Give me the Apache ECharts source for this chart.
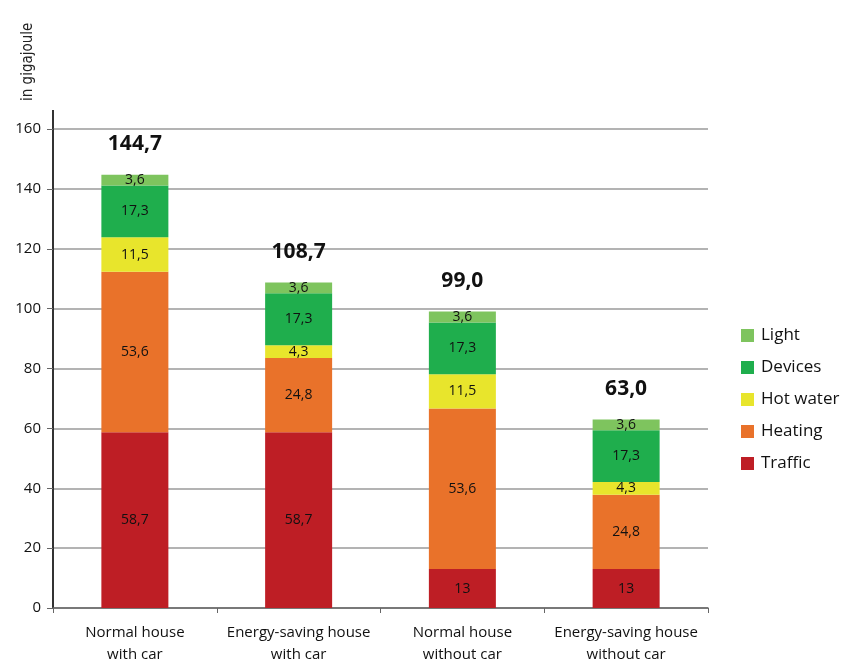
<!DOCTYPE html>
<html>
<head>
<meta charset="utf-8">
<script src="https://cdn.jsdelivr.net/npm/echarts@6/dist/echarts.min.js"></script>
<style>
  html, body { margin: 0; padding: 0; background: #fff; }
  #chart { width: 858px; height: 666px; }
</style>
</head>
<body>
<div id="chart"></div>
<script>
var categories = ['Normal house\nwith car', 'Energy-saving house\nwith car', 'Normal house\nwithout car', 'Energy-saving house\nwithout car']
var traffic = [58.7, 58.7, 13, 13]
var heating = [53.6, 24.8, 53.6, 24.8]
var hotWater = [11.5, 4.3, 11.5, 4.3]
var devices = [17.3, 17.3, 17.3, 17.3]
var light = [3.6, 3.6, 3.6, 3.6]
var totals = [144.7, 108.7, 99.0, 63.0]
var yTicks = [0, 20, 40, 60, 80, 100, 120, 140, 160]

var font = '"Open Sans", "Noto Sans", sans-serif'

function comma (v) {
  return String(v).replace('.', ',')
}

function part (name, data, color) {
  return {
    name: name,
    type: 'bar',
    stack: 'total',
    barWidth: 67,
    data: data,
    itemStyle: { color: color },
    label: {
      show: true,
      position: 'inside',
      color: '#111',
      fontFamily: font,
      fontSize: 14,
      formatter: function (p) { return comma(p.value) }
    }
  }
}

var chart = echarts.init(document.getElementById('chart'))
chart.setOption({
  animation: false,
  textStyle: { fontFamily: font },
  grid: { left: 53, right: 150, top: 129, bottom: 53 },
  legend: {
    orient: 'vertical',
    left: 736,
    top: 322,
    itemWidth: 13,
    itemHeight: 13,
    itemGap: 15,
    icon: 'rect',
    data: ['Light', 'Devices', 'Hot water', 'Heating', 'Traffic'],
    textStyle: { fontSize: 17, color: '#111', fontFamily: font, padding: [0, 0, 0, 2] }
  },
  graphic: [
    {
      type: 'text',
      x: 21,
      y: 101,
      rotation: Math.PI / 2,
      style: { text: 'in gigajoule', fontSize: 15, fill: '#222', fontFamily: '"Liberation Sans Narrow", "DejaVu Sans Condensed", sans-serif' }
    },
    {
      type: 'line',
      shape: { x1: 53, y1: 110, x2: 53, y2: 129 },
      style: { stroke: '#333', lineWidth: 2 }
    }
  ],
  xAxis: {
    type: 'category',
    data: categories,
    axisLine: { lineStyle: { color: '#666', width: 1.5 } },
    axisTick: { show: true, length: 5, lineStyle: { color: '#666' } },
    axisLabel: { color: '#111', fontSize: 15, lineHeight: 22, margin: 14, fontFamily: font, interval: 0 }
  },
  yAxis: {
    type: 'value',
    min: yTicks[0],
    max: yTicks[yTicks.length - 1],
    interval: 20,
    axisLine: { show: true, lineStyle: { color: '#333', width: 2 } },
    axisTick: { show: true, length: 6, lineStyle: { color: '#666' } },
    axisLabel: { color: '#111', fontSize: 15, margin: 12, fontFamily: font },
    splitLine: { lineStyle: { color: '#9a9a9a', width: 1.5 } }
  },
  series: [
    part('Traffic', traffic, '#be1e25'),
    part('Heating', heating, '#e9722a'),
    part('Hot water', hotWater, '#e8e52c'),
    part('Devices', devices, '#1fae4d'),
    part('Light', light, '#7ec45e'),
    {
      name: 'Total',
      type: 'bar',
      stack: 'total',
      barWidth: 67,
      data: totals.map(function () { return 0 }),
      itemStyle: { color: 'transparent' },
      label: {
        show: true,
        position: 'top',
        distance: 20,
        color: '#111',
        fontFamily: font,
        fontSize: 21,
        fontWeight: 'bold',
        formatter: function (p) { return comma(totals[p.dataIndex].toFixed(1)) }
      }
    }
  ]
})
</script>
</body>
</html>
